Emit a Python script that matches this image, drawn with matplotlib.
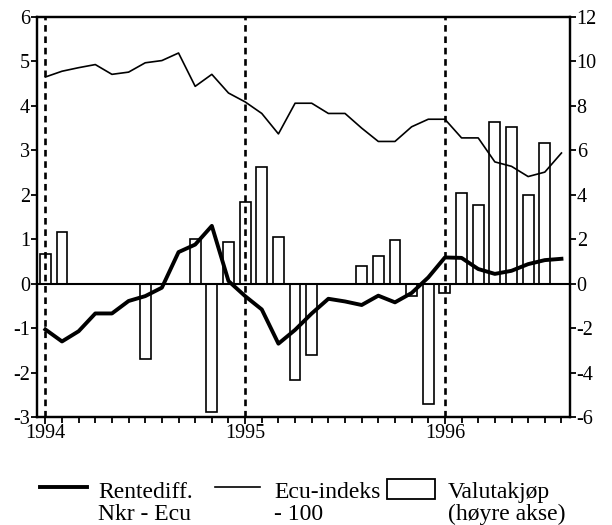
import matplotlib
matplotlib.use("Agg")
import matplotlib.pyplot as plt
from matplotlib.lines import Line2D
from matplotlib.patches import Rectangle

plt.rcParams['font.family'] = ['Liberation Serif', 'DejaVu Serif']
plt.rcParams['axes.unicode_minus'] = False

# months counted from Jan 1994
months = list(range(32))
rentediff = [-1.03, -1.30, -1.07, -0.67, -0.67, -0.39, -0.28, -0.09, 0.71, 0.88,
             1.30, 0.06, -0.28, -0.58, -1.35, -1.04, -0.67, -0.34, -0.40, -0.48,
             -0.27, -0.42, -0.21, 0.14, 0.59, 0.58, 0.33, 0.22, 0.29, 0.44,
             0.53, 0.56]
ecu_indeks = [4.65, 4.78, 4.86, 4.93, 4.71, 4.76, 4.97, 5.02, 5.19, 4.44,
              4.71, 4.29, 4.09, 3.83, 3.37, 4.06, 4.06, 3.83, 3.83, 3.50,
              3.20, 3.20, 3.53, 3.70, 3.70, 3.28, 3.28, 2.74, 2.64, 2.41,
              2.51, 2.94]
bar_months = [0, 1, 6, 9, 10, 11, 12, 13, 14, 15, 16, 19, 20, 21, 22, 23, 24,
              25, 26, 27, 28, 29, 30]
valutakjop = [1.35, 2.32, -3.37, 2.00, -5.76, 1.87, 3.67, 5.27, 2.11, -4.35,
              -3.22, 0.80, 1.24, 1.96, -0.55, -5.40, -0.40, 4.07, 3.54, 7.27,
              7.07, 4.00, 6.32]
year_ticks = [0, 12, 24]
year_labels = ['1994', '1995', '1996']

fig = plt.figure(figsize=(6.12, 5.25), dpi=100)
ax = fig.add_axes([0.0605, 0.2057, 0.8705, 0.7619])
ax2 = ax.twinx()
ax.set_zorder(ax2.get_zorder() + 1)
ax.patch.set_visible(False)

ax2.bar(bar_months, valutakjop, width=0.65, facecolor='white',
        edgecolor='black', linewidth=1.2)
ax.axhline(0, color='black', lw=1.5)
for yt in year_ticks:
    ax.axvline(yt, color='black', lw=1.9, ls=(0, (2.5, 1.8)))
ax.plot(months, ecu_indeks, color='black', lw=1.2)
ax.plot(months, rentediff, color='black', lw=2.8)

ax.set_xlim(-0.5, 31.5)
ax.set_ylim(-3, 6)
ax2.set_ylim(-6, 12)
ax.set_yticks(range(-3, 7))
ax2.set_yticks(range(-6, 13, 2))
ax.set_xticks(year_ticks)
ax.set_xticklabels(year_labels)
ax.set_xticks(months, minor=True)

for a in (ax, ax2):
    for s in a.spines.values():
        s.set_linewidth(1.6)
    a.tick_params(axis='both', which='major', direction='out', length=4,
                  width=1.3, labelsize=14.5, pad=1)
ax.tick_params(axis='x', which='minor', direction='out', length=4, width=1.3)
ax.tick_params(axis='x', which='major', length=5, pad=0)

# legend drawn below the chart
W, H = 612, 525


def fx(px):
    return px / W


def fy(py):
    return 1 - py / H


fig.add_artist(Line2D([fx(40), fx(87)], [fy(487), fy(487)], color='black', lw=2.8))
fig.add_artist(Line2D([fx(215), fx(260)], [fy(487), fy(487)], color='black', lw=1.2))
fig.add_artist(Rectangle((fx(387), fy(499)), fx(435) - fx(387), fy(479) - fy(499),
                         facecolor='white', edgecolor='black', lw=1.3))
legend_texts = [(98, 'Rentediff.', 'Nkr - Ecu'), (274, 'Ecu-indeks', '- 100'),
                (448, 'Valutakjøp', '(høyre akse)')]
for px, line1, line2 in legend_texts:
    fig.text(fx(px), fy(498), line1, ha='left', va='baseline', fontsize=17)
    fig.text(fx(px), fy(520), line2, ha='left', va='baseline', fontsize=17)

fig.savefig('out.png', dpi=100)
